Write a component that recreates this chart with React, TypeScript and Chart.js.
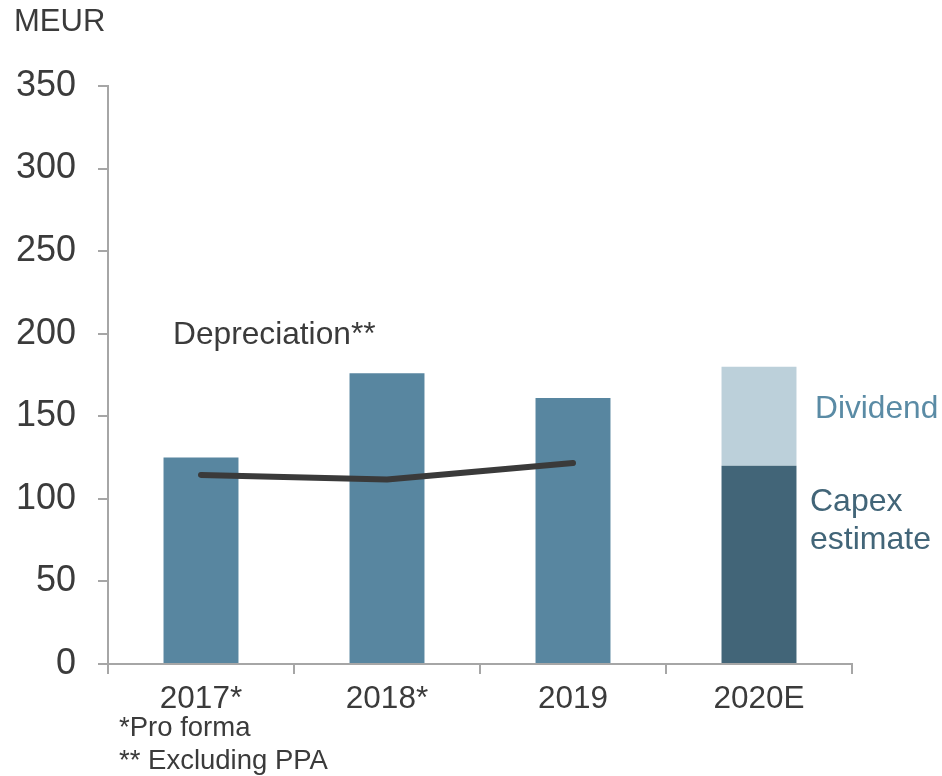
import React, { useEffect, useRef } from "react";
import { Chart, registerables } from "chart.js";

Chart.register(...registerables);

const categories = ["2017*", "2018*", "2019", "2020E"];
const capexValues = [125, 176, 161, 120];
const dividendValues = [0, 0, 0, 60];
const depreciationValues: (number | null)[] = [114.5, 111.7, 121.7, null];
const yTicks = [0, 50, 100, 150, 200, 250, 300, 350];

const FONT = "'Liberation Sans', Arial, Helvetica, sans-serif";
const AXIS = "#a6a6a6";
const TEXT = "#3b3b3b";

export default function App() {
  const ref = useRef<HTMLCanvasElement | null>(null);

  useEffect(() => {
    if (!ref.current) return;
    const chart = new Chart(ref.current, {
      type: "bar",
      data: {
        labels: categories,
        datasets: [
          {
            type: "line",
            label: "Depreciation**",
            data: depreciationValues,
            borderColor: "#3a3a3a",
            borderWidth: 6,
            borderCapStyle: "round",
            borderJoinStyle: "round",
            pointRadius: 0,
            tension: 0,
            stack: "line",
            order: 0,
          } as any,
          {
            label: "Capex",
            data: capexValues,
            backgroundColor: ["#5886a0", "#5886a0", "#5886a0", "#426578"],
            barPercentage: 0.403,
            categoryPercentage: 1,
            stack: "bars",
            order: 1,
          },
          {
            label: "Dividend",
            data: dividendValues,
            backgroundColor: "#bcd0da",
            barPercentage: 0.403,
            categoryPercentage: 1,
            stack: "bars",
            order: 1,
          },
        ],
      },
      options: {
        animation: false,
        responsive: false,
        maintainAspectRatio: false,
        layout: { padding: { left: 0, right: 90, top: 86, bottom: 0 } },
        plugins: { legend: { display: false }, tooltip: { enabled: false } },
        scales: {
          x: {
            stacked: true,
            grid: {
              display: true,
              drawOnChartArea: false,
              drawTicks: true,
              tickLength: 10,
              color: AXIS,
              lineWidth: 2,
              offset: true,
            },
            border: { display: true, color: AXIS, width: 2 },
            ticks: {
              color: TEXT,
              font: { family: FONT, size: 31.5 },
              padding: 6,
              maxRotation: 0,
            },
            afterFit: (s: any) => {
              s.height = 112;
            },
          },
          y: {
            stacked: true,
            min: 0,
            max: 350,
            afterBuildTicks: (s: any) => {
              s.ticks = yTicks.map((v) => ({ value: v }));
            },
            grid: {
              display: true,
              drawOnChartArea: false,
              drawTicks: true,
              tickLength: 10,
              color: AXIS,
              lineWidth: 2,
            },
            border: { display: true, color: AXIS, width: 2 },
            ticks: {
              color: TEXT,
              font: { family: FONT, size: 36 },
              padding: 22,
            },
            afterFit: (s: any) => {
              s.width = 108;
            },
          },
        },
      },
    });
    return () => chart.destroy();
  }, []);

  const txt = (style: React.CSSProperties): React.CSSProperties => ({
    position: "absolute",
    fontFamily: FONT,
    whiteSpace: "nowrap",
    lineHeight: 1,
    ...style,
  });

  return (
    <div style={{ position: "fixed", left: 0, top: 0, width: 942, height: 776, background: "#fff" }}>
      <canvas ref={ref} width={942} height={776} style={{ position: "absolute", left: 0, top: 0, width: 942, height: 776 }} />
      <div style={txt({ left: 14, top: 5, fontSize: 31, color: TEXT })}>MEUR</div>
      <div style={txt({ left: 173, top: 318, fontSize: 31.7, color: TEXT })}>Depreciation**</div>
      <div style={txt({ left: 815, top: 392, fontSize: 31.7, color: "#5a8ba5" })}>Dividend</div>
      <div style={txt({ left: 810, top: 481, fontSize: 32, color: "#426578", lineHeight: "38px", whiteSpace: "normal" })}>
        Capex
        <br />
        estimate
      </div>
      <div style={txt({ left: 119, top: 713, fontSize: 27.5, color: TEXT })}>*Pro forma</div>
      <div style={txt({ left: 119, top: 746, fontSize: 27.5, color: TEXT })}>** Excluding PPA</div>
    </div>
  );
}
